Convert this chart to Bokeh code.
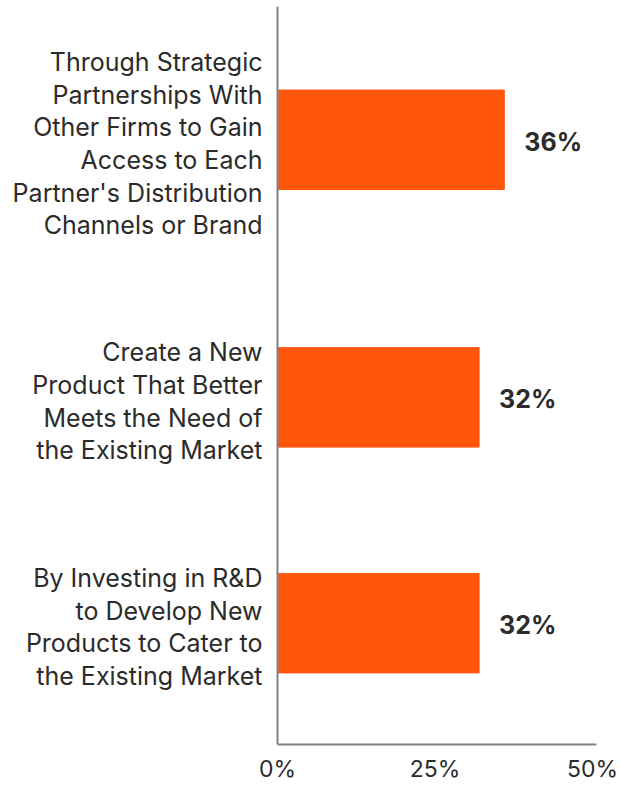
from bokeh.plotting import figure
from bokeh.models import Range1d, FixedTicker, Span, ColumnDataSource
from bokeh.core.properties import value
from bokeh.embed import file_html
from bokeh.resources import INLINE

# ---- data ----
categories = [
    "Through Strategic\nPartnerships With\nOther Firms to Gain\nAccess to Each\nPartner's Distribution\nChannels or Brand",
    "Create a New\nProduct That Better\nMeets the Need of\nthe Existing Market",
    "By Investing in R&D\nto Develop New\nProducts to Cater to\nthe Existing Market",
]
values = [36, 32, 32]
tick_values = [0, 25, 50]
tick_labels = ["0%", "25%", "50%"]

# ---- layout constants ----
W, H = 620, 785
TOP = 6
BOTTOM = 37
FRAME_H = H - TOP - BOTTOM
AXIS_X = 277          # canvas px of 0%
PX_PER = 6.3          # px per percentage point
LINE_H = 32           # label line height px
TOP_PAD = 38
GAP = 99
BAR_H = 100
FONT = "Inter"
LABEL_SIZE = 25
TEXT_COL = "#2b2b2b"
AXIS_COL = "#7b8588"
BAR_COL = "#FF560B"

# category centres from label line counts
centres = []
cur = TOP_PAD
for c in categories:
    h = len(c.split("\n")) * LINE_H
    centres.append(cur + h / 2)
    cur += h + GAP

x0 = -AXIS_X / PX_PER
x1 = (W - AXIS_X) / PX_PER

p = figure(width=W, height=H, output_backend="svg", toolbar_location=None,
           x_range=Range1d(x0, x1), y_range=Range1d(FRAME_H, 0),
           y_axis_location=None, min_border_left=0, min_border_right=0,
           min_border_top=TOP, min_border_bottom=BOTTOM)
p.outline_line_color = None
p.grid.visible = False
p.background_fill_color = "white"
p.border_fill_color = "white"

src = ColumnDataSource(dict(
    y=centres, v=values, cat=categories,
    lab=[f"{v}%" for v in values],
    lx=[-15 / PX_PER] * len(values),
    vx=[v + 20 / PX_PER for v in values],
))

p.hbar(y="y", left=0, right="v", height=BAR_H, color=BAR_COL, source=src)

p.text(x="lx", y="y", text="cat", source=src, text_align="right",
       text_baseline="middle", text_font=value(FONT),
       text_font_size=f"{LABEL_SIZE}px", y_offset=4,
       text_line_height=LINE_H / (LABEL_SIZE * 1.175), text_color=TEXT_COL)

p.text(x="vx", y="y", text="lab", source=src, text_align="left",
       text_baseline="middle", text_font=value(FONT), text_font_size="25px",
       text_font_style="bold", text_color=TEXT_COL, y_offset=2)

p.add_layout(Span(location=0, dimension="height", line_color=AXIS_COL, line_width=2))

ax = p.xaxis[0]
ax.ticker = FixedTicker(ticks=tick_values)
ax.major_label_overrides = {t: l for t, l in zip(tick_values, tick_labels)}
ax.bounds = (0, 50.6)
ax.axis_line_color = AXIS_COL
ax.axis_line_width = 2
ax.major_tick_line_color = None
ax.minor_tick_line_color = None
ax.major_tick_out = 0
ax.major_tick_in = 0
ax.major_label_standoff = 10
ax.major_label_text_font = FONT
ax.major_label_text_font_size = "23px"
ax.major_label_text_color = TEXT_COL

open("out.html", "w").write(file_html(p, INLINE))
